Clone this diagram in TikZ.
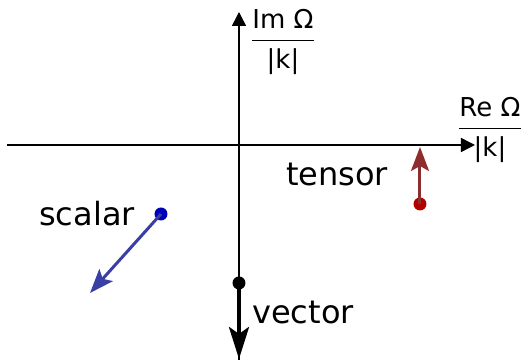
\documentclass[tikz,border=0pt]{standalone}
\usepackage{fontspec}
\setmainfont{DejaVu Sans}
\usetikzlibrary{arrows.meta, positioning}
\definecolor{tnsarrow}{HTML}{8E2D2D}
\definecolor{tnsdot}{HTML}{B20000}
\definecolor{sclarrow}{HTML}{3A3FA6}
\definecolor{scldot}{HTML}{0000B8}

\begin{document}
\begin{tikzpicture}[x=0.5pt, y=-0.5pt, font=\fontsize{16}{19}\selectfont,
          ax/.style={line width=.75pt, -{Triangle[length=7pt, width=7pt]}},
          pt/.style={circle, inner sep=0pt, minimum size=6.5pt},
          frac/.style={font=\fontsize{13}{16}\selectfont, inner sep=0pt}]
          \useasboundingbox (0,0) rectangle (532,362);
          % axes
          \coordinate (xl) at (7,145);
          \coordinate (xr) at (475,145);
          \coordinate (yb) at (239,360);
          \coordinate (yt) at (239,12);
          \draw[ax] (xl)--(xr);
          \draw[ax] (yb)--(yt);
          \node[frac] (imlab) at (283,42) {\begin{tabular}{@{}c@{}}Im Ω\\[1pt]\hline\rule{0pt}{14pt}|k|\end{tabular}};
          \node[frac] (relab) at (490,130) {\begin{tabular}{@{}c@{}}Re Ω\\[1pt]\hline\rule{0pt}{14pt}|k|\end{tabular}};
          % modes
          \node[pt, fill=tnsdot] (tns) at (420,204) {};
          \coordinate (tnsend) at (420,147);
          \draw[-{Stealth[length=12pt, width=9pt, inset=2.5pt]}, tnsarrow, line width=1.5pt] (tns.center)--(tnsend);
          \node (tnslab) at (337,174) {tensor};
          \node[pt, fill=scldot] (scl) at (161,214) {};
          \coordinate (sclend) at (90,293);
          \draw[-{Stealth[length=12pt, width=9pt, inset=2.5pt]}, sclarrow, line width=1.5pt] (scl.center)--(sclend);
          \node (scllab) at (87,214) {scalar};
          \node[pt, fill=black] (vec) at (239,283) {};
          \coordinate (vecend) at (239,359);
          \draw[-{Stealth[length=16pt, width=10pt, inset=3.5pt]}, black, line width=2pt] (vec.center)--(vecend);
          \node (veclab) at (303,313) {vector};
        \end{tikzpicture}
\end{document}
